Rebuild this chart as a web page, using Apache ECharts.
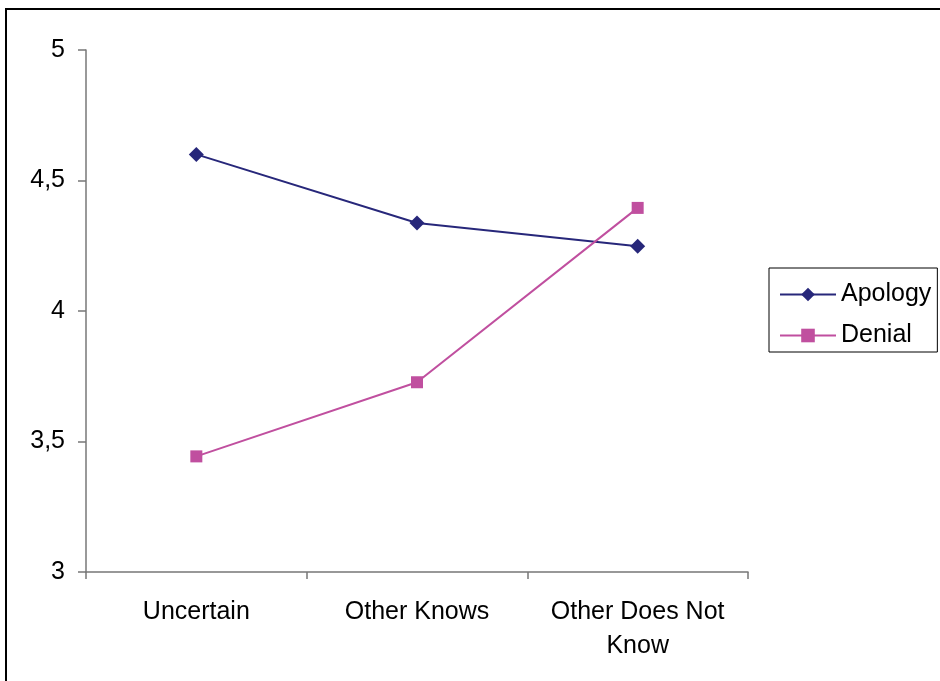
<!DOCTYPE html>
<html><head><meta charset="utf-8">
<script src="https://cdn.jsdelivr.net/npm/echarts@6/dist/echarts.min.js"></script>
<style>html,body{margin:0;padding:0;background:#fff}#c{width:940px;height:681px}</style>
</head><body><div id="c"></div>
<script>
const categories = ['Uncertain', 'Other Knows', 'Other Does Not\nKnow'];
const apology = [4.6, 4.337, 4.248];
const denial = [3.443, 3.727, 4.395];
const yTicks = [3, 3.5, 4, 4.5, 5];

const chart = echarts.init(document.getElementById('c'), null, {renderer: 'canvas'});
const font = 'Liberation Sans, Arial, sans-serif';
chart.setOption({
  animation: false,
  backgroundColor: '#fff',
  graphic: [{
    type: 'rect', shape: {x: 6, y: 9, width: 1000, height: 1000},
    style: {fill: 'none', stroke: '#000', lineWidth: 2}, z: 0
  }],
  grid: {left: 86, right: 192, top: 50, bottom: 109, containLabel: false},
  legend: {
    orient: 'vertical', left: 769, top: 268,
    data: ['Apology', 'Denial'],
    itemWidth: 56, itemHeight: 17, itemGap: 16,
    padding: [14, 6, 4, 10],
    borderColor: '#000', borderWidth: 1,
    textStyle: {fontFamily: font, fontSize: 25, color: '#000'}
  },
  xAxis: {
    type: 'category', data: categories, boundaryGap: true,
    axisLine: {lineStyle: {color: '#777', width: 1.5}},
    axisTick: {show: true, length: 7, lineStyle: {color: '#777', width: 1.5}},
    axisLabel: {fontFamily: font, fontSize: 25, color: '#000', margin: 23, lineHeight: 34, interval: 0}
  },
  yAxis: {
    type: 'value', min: 3, max: 5, interval: 0.5,
    axisLine: {show: true, lineStyle: {color: '#777', width: 1.5}},
    axisTick: {show: true, length: 8, lineStyle: {color: '#777', width: 1.5}},
    splitLine: {show: false},
    axisLabel: {fontFamily: font, fontSize: 25, color: '#000', margin: 21,
      formatter: v => yTicks.includes(v) ? String(v).replace('.', ',') : ''}
  },
  series: [
    {name: 'Apology', type: 'line', data: apology, symbol: 'diamond', symbolSize: 15,
      itemStyle: {color: '#27277a'}, lineStyle: {color: '#27277a', width: 2}},
    {name: 'Denial', type: 'line', data: denial, symbol: 'rect', symbolSize: 12,
      itemStyle: {color: '#c04f9f'}, lineStyle: {color: '#c04f9f', width: 2}}
  ]
});
</script></body></html>
